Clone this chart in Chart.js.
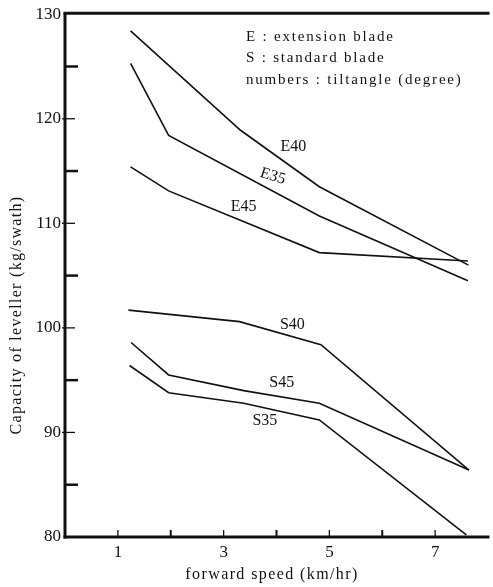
<!DOCTYPE html>
<html>
<head>
<meta charset="utf-8">
<script src="https://cdn.jsdelivr.net/npm/chart.js@4.4.0/dist/chart.umd.min.js"></script>
<style>
body{margin:0;background:#fff;}
#wrap{width:493px;height:587px;}
</style>
</head>
<body>
<div id="wrap"><canvas id="c" width="493" height="587"></canvas></div>
<script>
// forward speed (km/hr) and capacity (kg/swath)
const speedE40 = [1.24, 3.32, 4.81, 7.63];
const capE40   = [128.4, 118.9, 113.5, 106.0];
const speedE35 = [1.24, 1.96, 4.81, 7.62];
const capE35   = [125.3, 118.4, 110.7, 104.5];
const speedE45 = [1.24, 1.96, 4.81, 7.62];
const capE45   = [115.4, 113.1, 107.2, 106.4];
const speedS40 = [1.20, 3.30, 4.84, 7.64];
const capS40   = [101.7, 100.6, 98.4, 86.4];
const speedS45 = [1.25, 1.96, 3.38, 4.81, 7.64];
const capS45   = [98.6, 95.5, 94.0, 92.8, 86.4];
const speedS35 = [1.22, 1.96, 3.38, 4.81, 7.59];
const capS35   = [96.4, 93.8, 92.8, 91.2, 80.2];

const seriesNames = ['E40','E35','E45','S40','S45','S35'];
const xTickLabels = [1,3,5,7];
const yTickLabels = [80,90,100,110,120,130];
const noteLines = ['E : extension blade','S : standard blade','numbers : tiltangle (degree)'];

const series = [
  [speedE40,capE40],[speedE35,capE35],[speedE45,capE45],
  [speedS40,capS40],[speedS45,capS45],[speedS35,capS35]
];

/* where each curve name sits (data coords) */
const nameSpots = {
  E40:{x:4.32,y:117.3,rot:0},
  E35:{x:3.93,y:114.5,rot:0.3},
  E45:{x:3.38,y:111.6,rot:0},
  S40:{x:4.30,y:100.3,rot:0},
  S45:{x:4.10,y:94.7,rot:0},
  S35:{x:3.78,y:91.1,rot:0}
};

const serif = "'Liberation Serif','DejaVu Serif',serif";
const ink = '#111';

const datasets = series.map(function(s,i){
  return {
    label: seriesNames[i],
    data: s[0].map((v,j)=>({x:v,y:s[1][j]})),
    borderColor: ink,
    borderWidth: 1.6,
    pointRadius: 0,
    tension: 0,
    fill: false
  };
});

function seg(ctx,x1,y1,x2,y2){
  ctx.beginPath(); ctx.moveTo(x1,y1); ctx.lineTo(x2,y2); ctx.stroke();
}

const frame = {
  id:'frame',
  afterDraw(chart){
    const ctx = chart.ctx, a = chart.chartArea;
    const xs = chart.scales.x, ys = chart.scales.y;
    ctx.save();
    ctx.strokeStyle = ink;
    ctx.lineCap = 'square';

    /* axes and top border */
    ctx.lineWidth = 3;
    seg(ctx,a.left,a.top,a.left,a.bottom);
    seg(ctx,a.left,a.bottom,a.right,a.bottom);
    seg(ctx,a.left,a.top-1,a.right,a.top-1);

    /* y ticks, inside */
    ctx.lineCap = 'butt';
    for(let v=85; v<130; v+=5){
      const py = ys.getPixelForValue(v);
      if(v%10===0){ ctx.lineWidth=1.3; seg(ctx,a.left-3,py,a.left+10,py); }
      else { ctx.lineWidth=2.5; seg(ctx,a.left,py,a.left+13,py); }
    }
    /* x ticks, inside */
    for(let v=1; v<8; v++){
      const px = xs.getPixelForValue(v);
      ctx.lineWidth = (v%2===0) ? 2 : 1.3;
      seg(ctx,px,a.bottom,px,a.bottom-7);
    }

    ctx.fillStyle = ink;
    ctx.textBaseline = 'middle';

    /* curve names */
    ctx.font = '16px ' + serif;
    ctx.textAlign = 'center';
    seriesNames.forEach(function(n){
      const s = nameSpots[n];
      ctx.save();
      ctx.translate(xs.getPixelForValue(s.x), ys.getPixelForValue(s.y));
      ctx.rotate(s.rot);
      ctx.fillText(n,0,0);
      ctx.restore();
    });

    /* note in top right */
    ctx.font = '15px ' + serif;
    ctx.textAlign = 'left';
    ctx.letterSpacing = '1.8px';
    noteLines.forEach(function(t,i){
      ctx.fillText(t,246,37+i*21.5);
    });

    /* axis titles */
    ctx.font = '16px ' + serif;
    ctx.letterSpacing = '1.4px';
    ctx.textAlign = 'center';
    ctx.fillText('forward speed (km/hr)',272,575);

    ctx.letterSpacing = '1.3px';
    ctx.save();
    ctx.translate(17,315);
    ctx.rotate(-Math.PI/2);
    ctx.fillText('Capacity of leveller (kg/swath)',0,0);
    ctx.restore();

    ctx.restore();
  }
};

new Chart(document.getElementById('c'),{
  type:'line',
  data:{datasets:datasets},
  options:{
    responsive:false,
    animation:false,
    devicePixelRatio:1,
    layout:{padding:{top:10,right:0,left:0,bottom:0}},
    plugins:{legend:{display:false},tooltip:{enabled:false}},
    scales:{
      x:{
        type:'linear', min:0, max:8,
        grid:{display:false,drawTicks:false},
        border:{display:false},
        afterFit(s){ s.height = 50; },
        ticks:{
          stepSize:1, autoSkip:false, padding:5, color:ink,
          font:{family:serif,size:17},
          callback:(v)=> xTickLabels.includes(v) ? String(v) : ''
        }
      },
      y:{
        min:80, max:130,
        grid:{display:false,drawTicks:false},
        border:{display:false},
        afterFit(s){ s.width = 65; },
        ticks:{
          stepSize:10, padding:4, color:ink,
          font:{family:serif,size:17},
          callback:(v)=> yTickLabels.includes(v) ? String(v) : ''
        }
      }
    }
  },
  plugins:[frame]
});
</script>
</body>
</html>
